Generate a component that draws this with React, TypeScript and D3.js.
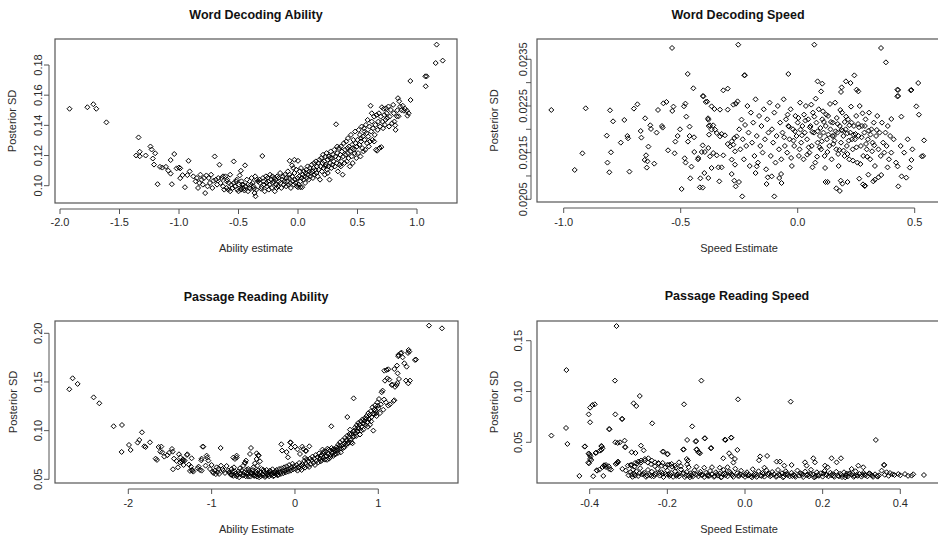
import React from "react";
import * as d3 from "d3";

// ---------- Word Decoding Ability (x = ability estimate, y = posterior SD)
const wdaPoints: [number, number][] = [
  [-1.92,.151],[-1.77,.152],[-1.72,.154],[-1.695,.151],[-1.61,.142],
  [-1.34,.132],[-1.36,.120],[-1.33,.1195],[-1.33,.1225],[-1.28,.120],[-1.24,.126],[-1.23,.124],[-1.20,.1215],[-1.22,.118],[-1.21,.114],[-1.18,.101],
  [-1.16,.1125],[-1.14,.112],[-1.11,.1125],[-1.09,.110],[-1.07,.108],[-1.07,.117],[-1.04,.121],[-1.06,.101],[-1.02,.1115],[-1.0,.112],[-0.99,.1115],
  [-0.99,.105],[-0.97,.107],[-0.95,.099],[-0.92,.1165],[-0.91,.1095],[-0.93,.107],
  [-0.88,.1062],[-0.85,.1051],[-0.84,.0985],[-0.82,.1073],[-0.81,.104],[-0.78,.0951],[-0.77,.1068],[-0.75,.1051],[-0.74,.1018],[-0.73,.1073],[-0.71,.1033],[-0.70,.1194],
  [-0.68,.1007],[-0.67,.1051],[-0.66,.1139],[-0.65,.1018],[-0.63,.0996],[-0.61,.1062],[-0.60,.1029],[-0.585,.0974],[-0.57,.1073],[-0.56,.1007],[-0.54,.1161],[-0.53,.0996],
  [-0.515,.104],[-0.50,.0963],[-0.49,.1068],[-0.48,.1099],[-0.47,.0985],[-0.46,.1007],[-0.445,.1135],[-0.43,.104],[-0.42,.1007],[-0.40,.098],[-0.39,.1051],[-0.375,.0996],
  [-0.36,.1062],[-0.35,.0974],[-0.335,.1029],
  [-0.86,.1029],[-0.83,.1018],[-0.80,.1007],[-0.79,.1051],[-0.76,.0996],[-0.72,.0985],[-0.69,.104],[-0.64,.1051],[-0.62,.0974],[-0.595,.104],[-0.58,.1018],[-0.55,.0985],
  [-0.52,.1029],[-0.51,.0974],[-0.495,.1007],[-0.475,.1029],[-0.455,.098],[-0.44,.0996],[-0.41,.0985],[-0.38,.1018],[-0.365,.0951],[-0.345,.1040],[-0.63,.1062],[-0.60,.0985],
  [-0.57,.0963],[-0.54,.1018],[-0.45,.0968],[-0.47,.1007],[-0.48,.0974],[-0.42,.0963],[-0.395,.1007],[-0.37,.098],
  [-0.357,.093],[-0.32,.1018],[-0.31,.098],[-0.30,.1197],[-0.295,.1051],[-0.285,.1007],[-0.28,.0963],[-0.27,.1062],[-0.26,.0996],[-0.25,.1029],[-0.245,.0974],[-0.235,.1073],
  [-0.225,.104],[-0.22,.0985],[-0.21,.1018],[-0.20,.1051],[-0.195,.0963],[-0.185,.1007],[-0.175,.1062],[-0.17,.0996],[-0.16,.1029],[-0.15,.1084],[-0.14,.0985],[-0.13,.104],
  [-0.12,.1007],[-0.11,.1073],[-0.10,.0996],[-0.09,.1029],[-0.085,.1095],[-0.075,.1051],[-0.065,.1018],[-0.06,.0985],[-0.05,.1062],[-0.04,.1117],[-0.035,.1007],[-0.025,.104],
  [-0.015,.1106],[-0.01,.0996],[-0.005,.1051],[-0.325,.1040],[-0.305,.0991],[-0.29,.1029],[-0.265,.1018],[-0.255,.1051],[-0.24,.1007],[-0.215,.1062],[-0.205,.1029],[-0.19,.104],
  [-0.18,.0985],[-0.165,.1051],[-0.145,.1018],[-0.125,.1062],[-0.115,.1029],[-0.095,.1051],[-0.08,.1007],[-0.07,.1073],[-0.045,.1029],[-0.03,.1084],[-0.02,.1018],
  [-0.07,.1165],[-0.03,.1172],[0.0,.1165],[-0.05,.1135],[0.0,.099],[0.02,.099],
  [0.005,.1007],[0.01,.1062],[0.015,.1095],[0.02,.1029],[0.025,.1117],[0.03,.1051],[0.035,.099],[0.04,.1073],[0.045,.1040],[0.05,.1095],[0.055,.1062],[0.06,.1018],[0.065,.1084],
  [0.07,.1106],[0.075,.1051],[0.08,.1128],[0.085,.1073],[0.09,.1040],[0.095,.1095],
  [0.10,.1117],[0.105,.1062],[0.11,.1084],[0.115,.1139],[0.12,.1095],[0.125,.1051],[0.13,.1117],[0.135,.1150],[0.14,.1073],[0.145,.1106],[0.15,.1161],[0.155,.1084],[0.16,.1128],
  [0.165,.1062],[0.17,.1150],[0.175,.1106],[0.18,.1172],[0.185,.1040],[0.19,.1128],[0.195,.1183],
  [0.20,.1095],[0.205,.1150],[0.21,.1205],[0.215,.1117],[0.22,.1161],[0.225,.1073],[0.23,.1194],[0.235,.1139],[0.24,.1216],[0.245,.1106],[0.25,.1172],[0.255,.1128],[0.26,.1194],
  [0.265,.1040],[0.27,.1150],[0.275,.1227],[0.28,.1117],[0.285,.1183],[0.29,.1139],[0.295,.1205],[0.25,.1084],[0.23,.1128],[0.27,.1183],
  [0.30,.1161],[0.305,.1238],[0.31,.1128],[0.315,.1194],[0.32,.1407],[0.325,.1150],[0.33,.1216],[0.335,.1095],[0.34,.1183],[0.345,.1249],[0.35,.1139],[0.355,.1205],[0.36,.1260],
  [0.365,.1161],[0.37,.1227],[0.375,.1073],[0.38,.1194],[0.385,.1282],[0.39,.1150],[0.395,.1238],[0.33,.1260],[0.36,.1128],
  [0.40,.1205],[0.405,.1293],[0.41,.1161],[0.415,.1249],[0.42,.1315],[0.425,.1183],[0.43,.1260],[0.435,.1128],[0.44,.1227],[0.445,.1337],[0.45,.1194],[0.455,.1271],[0.46,.1150],
  [0.465,.1304],[0.47,.1238],[0.475,.1216],[0.48,.1359],[0.485,.1282],[0.49,.1183],[0.495,.1260],[0.42,.1216],[0.46,.1249],
  [0.50,.1304],[0.505,.1216],[0.51,.1370],[0.515,.1271],[0.52,.1337],[0.525,.1194],[0.53,.1293],[0.535,.1392],[0.54,.1249],[0.545,.1326],[0.55,.1227],[0.555,.1381],[0.56,.1304],
  [0.565,.1238],[0.57,.1403],[0.575,.1348],[0.58,.1282],[0.585,.1436],[0.59,.1326],[0.595,.1260],[0.53,.1315],[0.56,.1359],
  [0.60,.1392],[0.605,.1293],[0.61,.1530],[0.615,.1359],[0.62,.1425],[0.625,.1304],[0.63,.1381],[0.64,.1458],[0.645,.1337],[0.65,.1403],[0.655,.1238],[0.66,.1469],[0.665,.1232],
  [0.67,.1370],[0.675,.1425],[0.68,.1480],[0.685,.1250],[0.69,.1392],[0.695,.1458],[0.70,.1256],[0.64,.1293],[0.62,.1480],
  [0.705,.1520],[0.71,.1425],[0.715,.1381],[0.72,.1510],[0.725,.1469],[0.73,.1403],[0.735,.1436],[0.74,.1513],[0.745,.1480],[0.75,.1447],[0.76,.1525],[0.765,.1392],[0.77,.1458],
  [0.78,.1502],[0.79,.1414],[0.80,.1536],[0.805,.1480],[0.81,.1425],[0.817,.140],[0.82,.137],[0.83,.1460],[0.835,.1500],[0.84,.1580],[0.845,.1460],[0.85,.1560],[0.86,.1525],
  [0.87,.1500],[0.88,.1530],[0.89,.1497],[0.90,.1510],[0.915,.1497],[0.92,.1464],[0.93,.1480],
  [0.944,.1694],[0.946,.1568],[1.07,.1725],[1.081,.1725],[1.073,.1659],[1.157,.1813],[1.165,.1935],[1.216,.1829]
];

// ---------- Word Decoding Speed
const wdsPoints: [number, number][] = [
  [-1.053,.022414],[-0.953,.021129],[-0.906,.02245],[-0.920,.021486],[-0.816,.021864],[-0.802,.022407],[-0.789,.022171],[-0.813,.021286],[-0.805,.021079],[-0.798,.021507],
  [-0.756,.021714],[-0.741,.0222],[-0.728,.021857],[-0.725,.021807],[-0.719,.021093],[-0.70,.022443],[-0.685,.022536],[-0.671,.021964],[-0.668,.021821],[-0.652,.022236],
  [-0.648,.021443],[-0.654,.021343],[-0.642,.021314],[-0.645,.021179],[-0.638,.021629],[-0.63,.022086],[-0.627,.022007],[-0.613,.021264],[-0.603,.021929],[-0.597,.022414],
  [-0.58,.022071],[-0.577,.022036],[-0.574,.022557],[-0.561,.022586],[-0.554,.02155],[-0.537,.023743],[-0.536,.022393],[-0.531,.022486],[-0.526,.021486],[-0.523,.021736],
  [-0.513,.021857],[-0.503,.022],
  [-0.496,.020721],[-0.486,.022493],[-0.48,.02255],[-0.476,.022271],[-0.483,.021379],[-0.479,.021286],[-0.47,.023186],[-0.469,.021736],[-0.462,.022057],[-0.462,.021857],
  [-0.454,.0212],[-0.459,.02095],[-0.446,.022879],[-0.443,.021829],[-0.442,.021514],[-0.426,.021357],[-0.416,.02095],[-0.406,.02075],[-0.405,.022714],[-0.397,.021514],
  [-0.393,.022586],[-0.387,.022593],[-0.383,.022236],[-0.380,.022071],
  [-0.403,.022706],[-0.368,.022492],[-0.356,.022435],[-0.332,.022421],[-0.318,.022835],[-0.299,.022871],[-0.299,.022421],[-0.275,.022528],[-0.264,.022549],[-0.257,.022599],
  [-0.382,.022206],[-0.375,.022085],[-0.379,.021885],[-0.368,.021992],[-0.361,.022085],[-0.353,.021992],[-0.346,.021921],[-0.332,.021849],[-0.325,.0219],[-0.311,.021871],
  [-0.299,.021685],[-0.282,.021742],[-0.271,.021813],[-0.261,.021849],[-0.382,.021599],[-0.375,.021421],[-0.361,.021492],[-0.346,.021442],[-0.318,.021442],[-0.289,.021635],
  [-0.275,.02167],[-0.268,.021528],[-0.282,.02135],[-0.268,.021242],[-0.399,.021063],[-0.382,.020956],[-0.368,.021171],[-0.339,.021185],[-0.335,.020885],[-0.325,.021185],
  [-0.282,.021042],[-0.271,.020899],[-0.265,.020778],[-0.418,.020756],[-0.41,.021513],[-0.425,.021385],[-0.406,.021656],
  [-0.254,.023813],[-0.228,.023156],[-0.226,.02316],[0.071,.023813],[0.356,.023742],[0.377,.023435],[-0.04,.023185],[0.085,.023028],[0.105,.022978],[0.1,.022813],
  [0.242,.023156],[0.206,.023028],[0.226,.022992],[0.188,.022899],[0.185,.0228],[0.252,.022849],[0.259,.022813],[0.426,.022849],[0.426,.022706],[0.483,.022835],
  [0.515,.022992],[0.507,.022492],[0.518,.022313],[0.54,.021763],[0.53,.021421],
  [0.43,.020778],[0.444,.020992],[0.427,.021206],[0.384,.021185],[-0.10,.020563],[-0.237,.020563],[-0.251,.020871],[-0.133,.020828],[-0.128,.020971],[-0.111,.020992],
  [-0.071,.021042],[-0.069,.020849],[-0.079,.020956],[0.119,.020871],[0.128,.020871],[0.184,.020899],[0.191,.020835],[0.213,.020871],[0.263,.020942],[0.288,.020792],
  [0.323,.020885],[0.345,.020971],[0.33,.020921],[0.302,.021028],[-0.18,.021063],[-0.175,.021206],
  [0.165,.020736],[0.18,.020679],[0.279,.02082],[0.286,.020786],[0.357,.021021],[0.464,.020964],[0.479,.021179],[0.486,.021343],[0.536,.021429],[0.486,.022843],
  [0.429,.022843],[0.429,.022714],[0.443,.022271],[0.40,.022221],
  [-0.25,.022],[-0.245,.021571],[-0.24,.022207],[-0.235,.021786],[-0.23,.021357],[-0.225,.022093],[-0.22,.021643],[-0.215,.0225],[-0.21,.021929],[-0.205,.021214],
  [-0.2,.022357],[-0.195,.021714],[-0.19,.022143],[-0.185,.021429],[-0.18,.022643],[-0.175,.021857],[-0.17,.021286],[-0.165,.022286],[-0.16,.021643],[-0.155,.022071],
  [-0.15,.0215],[-0.145,.022429],[-0.14,.021786],[-0.135,.021143],[-0.13,.022214],[-0.125,.021929],[-0.12,.022571],[-0.115,.021429],[-0.11,.022],[-0.105,.021714],
  [-0.1,.022357],[-0.095,.021286],[-0.09,.021857],[-0.085,.0225],[-0.08,.021571],[-0.075,.022143],[-0.07,.021357],[-0.065,.021929],[-0.06,.022643],[-0.055,.021643],
  [-0.05,.022214],[-0.045,.0215],[-0.04,.022071],[-0.035,.021786],[-0.03,.022429],[-0.025,.021214],[-0.02,.022],[-0.015,.021643],[-0.01,.022286],[-0.005,.021857],
  [0,.022143],[0.005,.021429],[0.01,.022571],[0.015,.021714],[0.02,.022071],[0.025,.021357],[0.03,.021929],[0.035,.0225],[0.04,.021786],[0.045,.022214],
  [0.05,.0215],[0.055,.022071],[0.06,.021643],[0.065,.022357],[0.07,.021929],[0.075,.021286],[0.08,.022143],[0.085,.021714],[0.09,.022429],[0.095,.021857],
  [0.1,.021571],[0.105,.022214],[0.11,.021929],[0.115,.021429],[0.12,.022071],[0.125,.021786],[0.13,.022286],[0.135,.021643],[0.14,.022],[0.145,.021357],
  [0.15,.022143],[0.155,.021857],[0.16,.022571],[0.165,.021571],[0.17,.021929],[0.175,.021214],[0.18,.022071],[0.185,.021714],[0.19,.022357],[0.195,.021857],
  [0.2,.021429],[0.205,.022],[0.21,.021643],[0.215,.022214],[0.22,.021357],[0.225,.021929],[0.23,.022143],[0.235,.021571],[0.24,.022071],[0.245,.021786],
  [0.25,.022286],[0.255,.021286],[0.26,.021857],[0.265,.0225],[0.27,.021643],[0.275,.022071],[0.28,.021429],[0.285,.021929],[0.29,.022214],[0.295,.021571],
  [0.3,.021786],[0.305,.022357],[0.31,.021357],[0.315,.022],[0.32,.021714],[0.325,.022143],[0.33,.021214],[0.335,.021857],[0.34,.022286],[0.345,.021571],
  [0.35,.021929],[0.355,.021429],[0.36,.022143],[0.365,.021714],[0.37,.0215],[0.375,.021929],[0.38,.021643],[0.385,.022071],[0.39,.021357],[0.395,.021857],
  [0.4,.0215],[0.41,.021786],[0.42,.021286],[0.44,.021643],[0.455,.0215],[0.47,.021786],[0.49,.021571],
  [0.012,.021993],[0.027,.022314],[0.041,.021457],[0.058,.022529],[0.063,.021186],[0.077,.022657],[0.094,.021614],[0.108,.022386],[0.117,.021171],[0.131,.021886],
  [0.138,.022543],[0.152,.021686],[0.167,.022243],[0.173,.021471],[0.182,.022414],[0.196,.021543],[0.207,.022271],[0.218,.021757],[0.228,.022486],[0.236,.021329],
  [0.247,.0219],[0.258,.022114],[0.268,.021257],[0.277,.022343],[0.292,.021686],[0.303,.021971],[0.318,.021529],[0.008,.021571],[-0.012,.021957],[-0.028,.021386],
  [-0.043,.022314],[-0.058,.021829],[0.052,.022043],[0.148,.021857],[0.162,.021957],[0.112,.022157],[0.085,.021957],[0.192,.021971],[0.212,.021914],[0.232,.021786],
  [0.003,.022243],[0.018,.021871],[0.033,.022186],[0.047,.021614],[0.062,.021943],[0.071,.022271],[0.083,.021414],[0.097,.022029],[0.103,.021743],[0.122,.022314],
  [0.127,.021514],[0.142,.022157],[0.157,.021757],[0.171,.022114],[0.178,.021557],[0.187,.021986],[0.201,.022157],[0.213,.021471],[0.221,.022086],[0.239,.021886],
  [0.251,.021614],[0.262,.022043],[0.273,.021829],[0.287,.022071],[0.297,.021414],[0.311,.021886],[0.327,.021657],[0.338,.021986],[-0.018,.021757],[-0.037,.022057]
];

// ---------- Passage Reading Ability
const praPoints: [number, number][] = [
  [-2.708,.1425],[-2.668,.1538],[-2.608,.148],[-2.416,.1342],[-2.348,.1281],[-2.176,.1045],[-2.076,.1058],[-2.08,.0781],[-1.992,.0853],[-1.972,.0801],[-1.888,.0877],
  [-1.868,.0904],[-1.836,.0983],[-1.808,.0839],[-1.792,.0832],[-1.74,.088],[-1.672,.0712],[-1.656,.0699],[-1.636,.0832],[-1.604,.0836],[-1.616,.0784],[-1.592,.0777],
  [-1.568,.0733],[-1.532,.0747],[-1.508,.0774],[-1.476,.0812],[-1.468,.0784],[-1.452,.0712],[-1.42,.0688],[-1.464,.0603],[-1.404,.0623],[-1.392,.0757],[-1.376,.0726],
  [-1.356,.0682],[-1.336,.0647],[-1.344,.0705],[-1.324,.0692],[-1.292,.0757],[-1.272,.0651],[-1.248,.063],[-1.236,.0596],[-1.26,.0586],[-1.22,.0579],[-1.156,.063],
  [-1.14,.0596],[-1.108,.0836],[-1.124,.0695],[-1.12,.0712],[-1.052,.0723],[-1.38,.0674],[-1.34,.0692],[-1.296,.075],[-1.232,.0589],[-1.24,.0716],
  [-1.168,.0613],[-1.12,.0589],[-1.1,.0835],[-1.06,.0743],[-1.04,.0692],[-1.072,.064],[-1.0,.0647],[-0.98,.0565],[-0.96,.0589],[-0.92,.0606],[-0.892,.0822],[-0.86,.0589],
  [-0.84,.0565],[-0.888,.064],[-0.8,.0589],[-0.78,.0565],[-0.76,.0606],[-0.732,.0623],[-0.72,.0709],[-0.7,.0743],[-0.66,.0613],[-0.64,.0589],[-0.62,.064],[-0.6,.0668],
  [-0.58,.0565],[-0.56,.0606],[-0.54,.076],[-0.528,.0822],[-0.52,.0565],[-0.5,.0623],[-0.48,.0537],[-0.46,.0709],[-0.44,.0743],
  [-1.02,.0606],[-0.99,.0579],[-0.95,.0553],[-0.94,.0623],[-0.93,.0572],[-0.91,.0555],[-0.87,.0606],[-0.82,.0637],[-0.79,.0572],[-0.77,.0548],[-0.75,.0579],[-0.74,.0535],
  [-0.71,.0559],[-0.69,.0545],[-0.68,.0582],[-0.67,.0521],[-0.65,.0555],[-0.63,.0538],[-0.61,.0572],[-0.59,.0531],[-0.57,.0548],[-0.55,.0586],[-0.535,.0528],[-0.515,.0552],
  [-0.505,.0596],[-0.49,.0535],[-0.475,.0565],[-0.455,.0528],[-0.445,.0589],[-0.43,.0545],[-0.42,.0572],[-0.41,.0531],[-0.40,.0606],[-0.39,.0555],[-0.38,.0538],[-0.37,.0579],
  [-0.36,.0524],[-0.35,.0562],[-0.34,.0596],[-0.33,.0541],[-0.32,.0572],[-0.31,.0531],[-0.30,.0589],[-0.29,.0555],[-0.28,.0545],[-0.27,.0603],[-0.26,.0562],[-0.25,.0538],
  [-0.24,.0579],[-0.23,.0552],[-0.22,.0596],[-0.21,.0565],[-0.20,.0545],[-0.19,.0606],[-0.18,.0572],[-0.17,.0555],[-0.16,.0613],[-0.15,.0582],[-0.14,.0562],[-0.13,.0623],
  [-0.12,.0589],[-0.11,.0572],[-0.10,.0633],[-0.09,.0599],[-0.08,.0579],[-0.07,.0647],[-0.06,.0606],[-0.05,.0589],[-0.04,.0623],[-0.03,.0660],[-0.02,.0603],[-0.01,.0637],
  [-0.76,.0545],[-0.72,.0579],[-0.70,.0531],[-0.66,.0565],[-0.62,.0545],[-0.58,.0599],[-0.56,.0528],[-0.53,.0569],[-0.50,.0545],[-0.47,.0582],[-0.45,.0559],[-0.43,.0521],
  [-0.38,.0596],[-0.35,.0535],[-0.32,.0548],[-0.29,.0576],[-0.26,.0531],[-0.23,.0572],[-0.21,.0541],
  [-0.164,.086],[-0.052,.0877],[0.0,.0836],[-0.084,.0726],[-0.46,.0767],[-0.436,.0747],[-0.6,.067],[-0.588,.0692],[-0.7,.0723],[-0.74,.0723],[-0.48,.0665],[-0.42,.0685],
  [-0.45,.0640],[-0.056,.088],[0.1,.0811],[0.172,.0839],[0.132,.0794],
  [0.01,.0606],[0.02,.0647],[0.03,.0589],[0.04,.0623],[0.05,.0668],[0.06,.0613],[0.07,.0643],[0.08,.0596],[0.088,.0836],[0.09,.0657],[0.10,.0633],[0.11,.0688],[0.12,.0620],
  [0.13,.0665],[0.14,.0705],[0.15,.0640],[0.16,.0685],[0.17,.0627],[0.18,.0712],[0.19,.0657],[0.20,.0695],[0.21,.0733],[0.22,.0668],[0.23,.0712],[0.24,.0647],[0.25,.0750],
  [0.26,.0692],[0.27,.0729],[0.28,.0674],[0.29,.0767],[0.30,.0712],[0.31,.0685],[0.32,.0750],[0.33,.0805],[0.34,.0722],[0.35,.0770],[0.36,.0702],[0.37,.0788],[0.38,.0740],
  [0.39,.0815],[0.40,.0760],[0.41,.0712],[0.42,.0795],[0.43,.0752],[0.436,.1045],[0.44,.0822],[0.45,.0774],[0.46,.0740],[0.47,.0812],[0.48,.0788],[0.49,.0760],[0.50,.0830],
  [0.51,.0795],[0.52,.0856],[0.53,.0812],[0.54,.0880],[0.55,.0777],[0.56,.0846],[0.57,.0900],[0.58,.0822],[0.59,.0870],[0.60,.0925],[0.61,.0856],[0.62,.0897],[0.628,.114],
  [0.63,.0950],[0.64,.0880],[0.65,.0935],[0.66,.1010],[0.67,.0905],[0.68,.0965],[0.69,.0870],[0.70,.0990],[0.704,.1332],[0.71,.0940],[0.72,.1030],[0.73,.0975],[0.74,.1055],
  [0.75,.0995],[0.76,.1080],[0.77,.1020],[0.78,.0960],[0.79,.1095],[0.80,.1040],[0.81,.1115],[0.82,.1010],[0.83,.1070],[0.84,.1130],[0.85,.1055],[0.86,.1150],[0.87,.1090],
  [0.88,.1180],[0.89,.1115],[0.90,.1060],[0.91,.1200],[0.92,.1140],[0.93,.1240],[0.94,.1000],[0.95,.1170],[0.96,.1260],[0.97,.1205],[0.98,.1150],[0.99,.1290],[1.00,.1230],
  [1.008,.1325],[1.02,.1180],[1.03,.1270],[1.04,.1394],[1.052,.1411],[1.06,.1215],[1.07,.1320],[1.092,.1291],[1.12,.1257],[1.14,.127],
  [0.305,.0740],[0.325,.0698],[0.345,.0785],[0.365,.0735],[0.385,.0700],[0.405,.0805],[0.425,.0730],[0.455,.0805],[0.475,.0755],[0.495,.0805],[0.515,.0770],[0.535,.0840],
  [0.555,.0815],[0.575,.0860],[0.595,.0830],[0.615,.0905],[0.635,.0865],[0.655,.0965],[0.675,.0880],[0.695,.0935],[0.715,.1000],[0.735,.0945],[0.755,.1030],[0.775,.1060],
  [0.795,.1000],[0.815,.1075],[0.835,.1100],[0.855,.1120],[0.875,.1040],[0.895,.1160],[0.915,.1095],[0.935,.1175],[0.955,.1220],[0.975,.1180],[0.995,.1255],[-0.155,.0795],
  [-0.10,.0780],[-0.048,.0826],[0.03,.0808],[0.06,.0760],[0.12,.0720],[0.13,.0790],
  [1.184,.1305],[1.192,.1312],[1.072,.1616],[1.1,.1623],[1.12,.163],[1.16,.147],[1.2,.145],[1.228,.149],[1.24,.1777],[1.28,.1801],[1.364,.1829],[1.372,.1812],[1.356,.1798],
  [1.44,.1726],[1.292,.1753],[1.38,.1514],[1.36,.1486],[1.332,.1514],[1.268,.1795],[1.24,.1764],[1.452,.173],[1.608,.2079],[1.764,.2051],
  [1.192,.1633],[1.224,.1668],[1.34,.1657],[1.312,.1692],[1.232,.1589],[1.248,.1531],[1.22,.1469],[1.172,.1472],[1.108,.1537],[1.08,.1513],[1.132,.1524]
];

// ---------- Passage Reading Speed
const prsPoints: [number, number][] = [
  [-0.4987,.0566],[-0.46,.1211],[-0.461,.0641],[-0.4575,.0484],[-0.4266,.0169],[-0.413,.0457],[-0.4026,.0775],[-0.399,.0841],[-0.393,.0867],[-0.387,.0874],[-0.399,.0697],
  [-0.4026,.039],[-0.399,.0375],[-0.4035,.030],[-0.396,.0326],[-0.391,.0166],[-0.383,.0398],[-0.37,.0464],[-0.37,.0425],[-0.365,.0169],[-0.382,.0225],[-0.367,.0257],
  [-0.362,.027],[-0.358,.0257],[-0.35,.0238],[-0.363,.0274],[-0.349,.0628],[-0.335,.1107],[-0.331,.1644],[-0.334,.0775],[-0.334,.05],[-0.322,.05],[-0.317,.073],
  [-0.31,.0516],[-0.308,.0451],[-0.33,.0293],[-0.327,.031],[-0.287,.0884],[-0.28,.0857],[-0.271,.0956],[-0.239,.0687],[-0.212,.0408],[-0.2,.0382],[-0.157,.0874],
  [-0.149,.0523],[-0.158,.0431],[-0.147,.032],[-0.149,.0284],[-0.136,.0657],[-0.126,.0513],[-0.124,.0431],[-0.118,.0398],[-0.1124,.1107],[-0.104,.0539],[-0.087,.0444],
  [-0.05,.0523],[-0.035,.0546],[-0.018,.0923],[-0.0197,.0425],[0.036,.0323],[0.057,.0366],[0.1176,.09],[0.337,.0523],[0.358,.0277],[0.039,.0361],
  [-0.292,.0402],[-0.282,.0395],[-0.268,.0467],[-0.261,.0421],[-0.316,.0730],[-0.309,.0454],[-0.328,.0494],[-0.35,.0631],[-0.385,.0395],[-0.374,.0418],[-0.369,.046],
  [-0.367,.0441],[-0.412,.046],[-0.402,.0385],[-0.399,.0336],[-0.402,.0293],[-0.398,.0359],[-0.381,.0221],[-0.375,.0231],[-0.363,.027],[-0.358,.0277],[-0.351,.0264],
  [-0.345,.0231],[-0.333,.0287],[-0.328,.0303],[-0.316,.0238],[-0.307,.0221],[-0.302,.027],[-0.292,.0277],[-0.283,.0297],[-0.275,.031],[-0.268,.032],[-0.258,.0336],
  [-0.249,.0343],[-0.24,.032],[-0.232,.0303],[-0.223,.0297],[-0.21,.0408],[-0.199,.0385],[-0.212,.0297],[-0.2,.0277],[-0.189,.0287],[-0.18,.027],[-0.17,.0303],
  [-0.159,.0428],[-0.15,.0336],[-0.127,.0507],[-0.125,.0428],[-0.12,.0402],[-0.116,.0392],[-0.103,.054],[-0.088,.0441],[-0.056,.0343],[-0.052,.0526],[-0.041,.0392],
  [-0.036,.0546],[-0.035,.0362],[-0.026,.0336],
  [-0.30,.0175],[-0.295,.0205],[-0.29,.0160],[-0.288,.0230],[-0.285,.0190],[-0.28,.0215],[-0.275,.0168],[-0.27,.0245],[-0.265,.0185],[-0.26,.0200],[-0.255,.0160],
  [-0.25,.0228],[-0.245,.0178],[-0.24,.0210],[-0.235,.0165],[-0.23,.0195],[-0.225,.0240],[-0.22,.0172],[-0.215,.0205],[-0.21,.0158],[-0.205,.0188],[-0.20,.0222],
  [-0.195,.0168],[-0.19,.0198],[-0.185,.0160],[-0.18,.0215],[-0.175,.0180],[-0.17,.0165],[-0.165,.0232],[-0.16,.0190],[-0.155,.0158],[-0.15,.0208],[-0.145,.0172],
  [-0.14,.0195],[-0.135,.0162],[-0.13,.0225],[-0.125,.0182],[-0.12,.0165],[-0.115,.0210],[-0.11,.0175],[-0.105,.0158],[-0.10,.0200],[-0.095,.0168],[-0.09,.0218],
  [-0.085,.0185],[-0.08,.0160],[-0.075,.0205],[-0.07,.0172],[-0.065,.0192],[-0.06,.0158],[-0.055,.0228],[-0.05,.0178],[-0.045,.0165],[-0.04,.0212],[-0.035,.0185],
  [-0.03,.0160],[-0.025,.0240],[-0.02,.0195],[-0.015,.0168],[-0.01,.0220],[-0.005,.0175],[0.0,.0160],[0.005,.0205],[0.01,.0182],[0.015,.0165],[0.02,.0235],[0.025,.0190],
  [0.03,.0160],[0.035,.0215],[0.04,.0172],[0.045,.0198],[0.05,.0162],[0.055,.0225],[0.06,.0180],[0.065,.0165],[0.07,.0208],[0.075,.0185],[0.08,.0160],[0.085,.0228],
  [0.09,.0175],[0.095,.0195],[0.10,.0162],[0.105,.0215],[0.11,.0178],[0.115,.0165],[0.12,.0200],[0.125,.0182],[0.13,.0160],[0.135,.0222],[0.14,.0172],[0.145,.0190],
  [0.15,.0158],[0.155,.0212],[0.16,.0175],[0.165,.0165],[0.17,.0230],[0.175,.0185],[0.18,.0160],[0.185,.0205],[0.19,.0170],[0.195,.0195],[0.20,.0162],[0.205,.0218],
  [0.21,.0178],[0.215,.0165],[0.22,.0200],[0.225,.0185],[0.23,.0160],[0.235,.0210],[0.24,.0172],[0.245,.0190],[0.25,.0158],[0.255,.0205],[0.26,.0175],[0.265,.0165],
  [0.27,.0195],[0.275,.0180],[0.28,.0160],[0.285,.0215],[0.29,.0170],[0.295,.0188],[0.30,.0162],[0.305,.0200],[0.31,.0175],[0.315,.0165],[0.32,.0195],[0.325,.0180],
  [0.33,.0160],[0.335,.0185],[0.34,.0168],[0.345,.0175],
  [-0.292,.0182],[-0.272,.0195],[-0.252,.0172],[-0.232,.0180],[-0.212,.0190],[-0.192,.0178],[-0.172,.0185],[-0.152,.0175],[-0.132,.0192],[-0.112,.0182],[-0.092,.0170],
  [-0.072,.0188],[-0.052,.0195],[-0.032,.0178],[-0.012,.0185],[0.008,.0172],[0.028,.0180],[0.048,.0188],[0.068,.0175],[0.088,.0182],[0.108,.0190],[0.128,.0172],
  [0.148,.0180],[0.168,.0188],[0.188,.0178],[0.208,.0185],[0.228,.0172],[0.248,.0180],[0.268,.0188],[0.288,.0178],[0.308,.0185],[0.328,.0172],[-0.142,.0155],[-0.062,.0155],
  [0.018,.0155],[0.098,.0155],[0.178,.0155],[0.258,.0155],
  [-0.283,.0172],[-0.262,.0188],[-0.241,.0168],[-0.221,.0196],[-0.198,.0183],[-0.177,.0170],[-0.158,.0198],[-0.138,.0176],[-0.117,.0190],[-0.097,.0178],[-0.078,.0168],
  [-0.057,.0185],[-0.038,.0198],[-0.018,.0170],[0.002,.0188],[0.022,.0176],[0.043,.0168],[0.062,.0194],[0.082,.0170],[0.103,.0185],[0.122,.0168],[0.142,.0196],
  [0.162,.0182],[0.183,.0168],[0.202,.0190],[0.222,.0176],[0.242,.0165],[0.262,.0192],[0.282,.0172],[0.302,.0180],[0.322,.0190],[0.342,.0162],
  [-0.295,.0275],[-0.285,.0260],[-0.278,.0290],[-0.268,.0300],[-0.258,.0320],[-0.25,.0300],[-0.242,.0285],[-0.232,.0265],[-0.222,.0290],[-0.215,.0270],[-0.205,.0255],
  [-0.195,.0280],[-0.188,.0260],[-0.178,.0250],[-0.165,.0265],[-0.145,.0255],[-0.125,.0260],[-0.105,.0250],[-0.085,.0255],[-0.065,.0250],[-0.045,.0255],[-0.03,.0300],
  [0.05,.0250],[0.0815,.031],[0.0901,.031],[0.1012,.027],[0.1201,.0277],[0.1545,.0303],[0.1587,.027],[0.1759,.0343],[0.1802,.0303],[0.206,.027],[0.2128,.0254],
  [0.223,.0343],[0.236,.0303],[0.2472,.0343],[0.2746,.0238],[0.2918,.027],[0.3047,.0254],[0.3587,.0277],[0.3519,.0221],[0.3648,.0205],
  [0.3734,.0198],[0.38,.0185],[0.3948,.0188],[0.40,.0175],[0.412,.0188],[0.42,.0170],[0.4334,.0185],[0.4291,.0172],[0.4609,.0178],[0.37,.0170],[0.385,.0178],[0.36,.0180]
];

// ---------- ticks and labels
const wdaXTicks = [-2, -1.5, -1, -0.5, 0, 0.5, 1];
const wdaXLabels = ["-2.0", "-1.5", "-1.0", "-0.5", "0.0", "0.5", "1.0"];
const wdaYTicks = [0.10, 0.12, 0.14, 0.16, 0.18];
const wdaYLabels = ["0.10", "0.12", "0.14", "0.16", "0.18"];
const wdsXTicks = [-1, -0.5, 0, 0.5];
const wdsXLabels = ["-1.0", "-0.5", "0.0", "0.5"];
const wdsYTicks = [0.0205, 0.021, 0.0215, 0.022, 0.0225, 0.023, 0.0235];
const wdsYLabels = ["0.0205", "", "0.0215", "", "0.0225", "", "0.0235"];
const praXTicks = [-2, -1, 0, 1];
const praXLabels = ["-2", "-1", "0", "1"];
const praYTicks = [0.05, 0.10, 0.15, 0.20];
const praYLabels = ["0.05", "0.10", "0.15", "0.20"];
const prsXTicks = [-0.4, -0.2, 0, 0.2, 0.4];
const prsXLabels = ["-0.4", "-0.2", "0.0", "0.2", "0.4"];
const prsYTicks = [0.05, 0.10, 0.15];
const prsYLabels = ["0.05", "0.10", "0.15"];

const titles = ["Word Decoding Ability", "Word Decoding Speed", "Passage Reading Ability", "Passage Reading Speed"];
const xTitles = ["Ability estimate", "Speed Estimate", "Ability Estimate", "Speed Estimate"];
const yTitle = "Posterior SD";

const FONT = "'Liberation Sans', Arial, Helvetica, sans-serif";
const INK = "#2a2a2a";
const AXIS = "#555";

type PanelProps = {
  points: [number, number][];
  xDomain: [number, number]; xRange: [number, number];
  yDomain: [number, number]; yRange: [number, number];
  box: { l: number; r: number; t: number; b: number };
  xTicks: number[]; xLabels: string[]; yTicks: number[]; yLabels: string[];
  title: string; xTitle: string;
  titleX: number; titleY: number; xTickY: number; xTitleY: number; yTickX: number; yTitleX: number;
};

function Panel(p: PanelProps) {
  const x = d3.scaleLinear().domain(p.xDomain).range(p.xRange);
  const y = d3.scaleLinear().domain(p.yDomain).range(p.yRange);
  const axY = p.box.b + 6;
  const axX = p.box.l - 6;
  const tl = 5;
  const s = 2.5;
  const diamond = `M0,${-s}L${s},0L0,${s}L${-s},0Z`;
  const yMid = (p.box.t + p.box.b) / 2;
  const xMid = (p.box.l + p.box.r) / 2;
  return (
    <g>
      <text x={p.titleX} y={p.titleY} textAnchor="middle" fontFamily={FONT} fontWeight="bold" fontSize={12.5} fill="#111">{p.title}</text>
      <rect x={p.box.l} y={p.box.t} width={p.box.r - p.box.l} height={p.box.b - p.box.t} fill="none" stroke={AXIS} strokeWidth={1.2} />
      <line x1={x(p.xTicks[0])} x2={x(p.xTicks[p.xTicks.length - 1])} y1={axY} y2={axY} stroke={AXIS} strokeWidth={1} />
      {p.xTicks.map((t, i) => (
        <g key={"xt" + i}>
          <line x1={x(t)} x2={x(t)} y1={axY} y2={axY + tl} stroke={AXIS} strokeWidth={1} />
          <text x={x(t)} y={p.xTickY} textAnchor="middle" fontFamily={FONT} fontSize={11} fill={INK}>{p.xLabels[i]}</text>
        </g>
      ))}
      <line x1={axX} x2={axX} y1={y(p.yTicks[0])} y2={y(p.yTicks[p.yTicks.length - 1])} stroke={AXIS} strokeWidth={1} />
      {p.yTicks.map((t, i) => (
        <g key={"yt" + i}>
          <line x1={axX - tl} x2={axX} y1={y(t)} y2={y(t)} stroke={AXIS} strokeWidth={1} />
          {p.yLabels[i] ? (
            <text transform={`translate(${p.yTickX},${y(t)}) rotate(-90)`} textAnchor="middle" dy="0.35em" fontFamily={FONT} fontSize={11} fill={INK}>{p.yLabels[i]}</text>
          ) : null}
        </g>
      ))}
      <text x={xMid} y={p.xTitleY} textAnchor="middle" fontFamily={FONT} fontSize={11} fill={INK}>{p.xTitle}</text>
      <text transform={`translate(${p.yTitleX},${yMid}) rotate(-90)`} textAnchor="middle" dy="0.35em" fontFamily={FONT} fontSize={11} fill={INK}>{yTitle}</text>
      {p.points.map((d, i) => (
        <path key={i} d={diamond} transform={`translate(${x(d[0]).toFixed(2)},${y(d[1]).toFixed(2)})`} fill="none" stroke="#000" strokeWidth={1} />
      ))}
    </g>
  );
}

export default function App() {
  return (
    <svg width={938} height={536} style={{ position: "absolute", left: 0, top: 0, background: "#fff" }}>
      <rect x={0} y={0} width={938} height={536} fill="#fff" />
      <Panel points={wdaPoints} xDomain={[-2, 1]} xRange={[60, 417]} yDomain={[0.10, 0.18]} yRange={[185.7, 65]}
        box={{ l: 55, r: 457, t: 39, b: 203 }} xTicks={wdaXTicks} xLabels={wdaXLabels} yTicks={wdaYTicks} yLabels={wdaYLabels}
        title={titles[0]} xTitle={xTitles[0]} titleX={256} titleY={19} xTickY={226} xTitleY={252} yTickX={38} yTitleX={12} />
      <Panel points={wdsPoints} xDomain={[-1, 0.5]} xRange={[563.7, 914.7]} yDomain={[0.0205, 0.0235]} yRange={[199.3, 59.3]}
        box={{ l: 537, r: 941, t: 39, b: 202 }} xTicks={wdsXTicks} xLabels={wdsXLabels} yTicks={wdsYTicks} yLabels={wdsYLabels}
        title={titles[1]} xTitle={xTitles[1]} titleX={738} titleY={19} xTickY={226} xTitleY={252} yTickX={523} yTitleX={494} />
      <Panel points={praPoints} xDomain={[-2, 1]} xRange={[128.3, 378.3]} yDomain={[0.05, 0.20]} yRange={[479.3, 333.3]}
        box={{ l: 55, r: 458, t: 321, b: 483 }} xTicks={praXTicks} xLabels={praXLabels} yTicks={praYTicks} yLabels={praYLabels}
        title={titles[2]} xTitle={xTitles[2]} titleX={256} titleY={301} xTickY={507} xTitleY={533} yTickX={38} yTitleX={13} />
      <Panel points={prsPoints} xDomain={[-0.4, 0.4]} xRange={[589.7, 900.3]} yDomain={[0.05, 0.15]} yRange={[442.3, 340.7]}
        box={{ l: 537, r: 941, t: 321, b: 483 }} xTicks={prsXTicks} xLabels={prsXLabels} yTicks={prsYTicks} yLabels={prsYLabels}
        title={titles[3]} xTitle={xTitles[3]} titleX={737} titleY={300} xTickY={507} xTitleY={533} yTickX={518} yTitleX={494} />
    </svg>
  );
}
